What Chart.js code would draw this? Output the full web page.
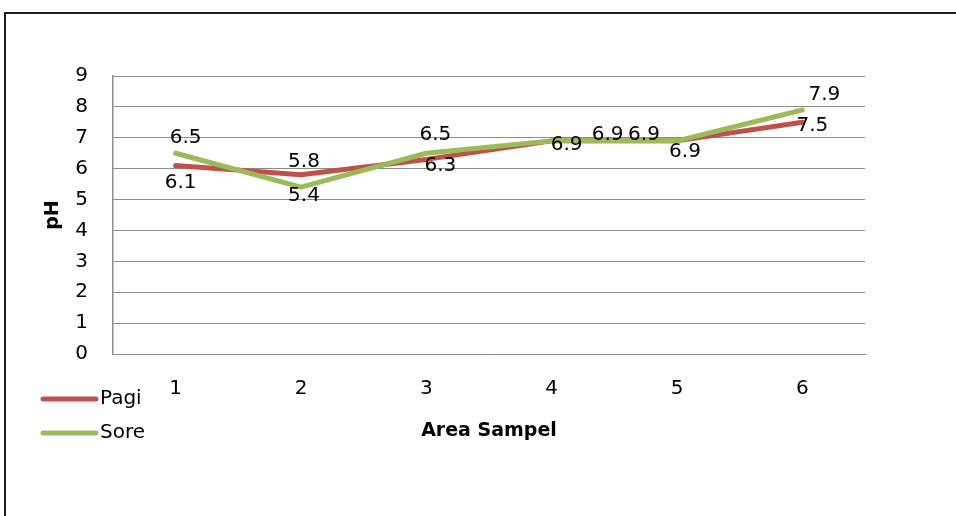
<!DOCTYPE html>
<html>
<head>
<meta charset="utf-8">
<title>pH Area Sampel</title>
<script src="https://cdn.jsdelivr.net/npm/chart.js@4/dist/chart.umd.min.js"></script>
<style>
  html, body { margin: 0; padding: 0; background: #fff; }
  #wrap { position: relative; width: 956px; height: 516px; overflow: hidden; }
  #frame { position: absolute; left: 4px; top: 12px; width: 1000px; height: 600px;
           border: 2px solid #1e1e1e; box-sizing: border-box; pointer-events: none; }
  canvas { position: absolute; left: 0; top: 0; }
</style>
</head>
<body>
<div id="wrap">
  <canvas id="c" width="956" height="516"></canvas>
  <div id="frame"></div>
</div>
<script>
// Sampling areas and measured pH (morning / afternoon)
const categories = ['1', '2', '3', '4', '5', '6'];
const pagi = [6.1, 5.8, 6.3, 6.9, 6.9, 7.5];
const sore = [6.5, 5.4, 6.5, 6.9, 6.9, 7.9];
const seriesNames = ['Pagi', 'Sore'];
const yMin = 0, yMax = 9, yStep = 1;

const FONT = '"DejaVu Sans", sans-serif';
const RED = '#C0504D';
const GREEN = '#9BBB59';

// Where each value label sits relative to its point (dx, dy in px)
const labelShift = {
  Pagi: [[5, 17], [3, -13], [14, 6], [15, 4], [8, 11], [10, 3]],
  Sore: [[10, -15], [3, 9], [9, -18], [56, -6], [-33, -6], [22, -15]]
};

const valueLabels = {
  id: 'valueLabels',
  afterDatasetsDraw(chart) {
    const ctx = chart.ctx;
    ctx.save();
    ctx.font = '20px ' + FONT;
    ctx.fillStyle = '#000';
    ctx.textAlign = 'center';
    ctx.textBaseline = 'middle';
    chart.data.datasets.forEach((ds, i) => {
      const meta = chart.getDatasetMeta(i);
      const shifts = labelShift[ds.label];
      meta.data.forEach((pt, j) => {
        const [dx, dy] = shifts[j];
        ctx.fillText(ds.data[j].toFixed(1), pt.x + dx, pt.y + dy);
      });
    });
    ctx.restore();
  }
};

const sideLegend = {
  id: 'sideLegend',
  afterDraw(chart) {
    const ctx = chart.ctx;
    ctx.save();
    ctx.font = '20px ' + FONT;
    ctx.textBaseline = 'middle';
    ctx.textAlign = 'left';
    const rows = [399, 433];
    chart.data.datasets.forEach((ds, i) => {
      const y = rows[i];
      ctx.strokeStyle = ds.borderColor;
      ctx.lineWidth = 5;
      ctx.lineCap = 'round';
      ctx.beginPath();
      ctx.moveTo(43, y);
      ctx.lineTo(96, y);
      ctx.stroke();
      ctx.fillStyle = '#000';
      ctx.fillText(ds.label, 100, y);
    });
    ctx.restore();
  }
};

new Chart(document.getElementById('c'), {
  type: 'line',
  data: {
    labels: categories,
    datasets: [
      { label: seriesNames[0], data: pagi, borderColor: RED, backgroundColor: RED,
        borderWidth: 5, pointRadius: 0, tension: 0, order: 1,
        borderJoinStyle: 'round', borderCapStyle: 'round' },
      { label: seriesNames[1], data: sore, borderColor: GREEN, backgroundColor: GREEN,
        borderWidth: 5, pointRadius: 0, tension: 0, order: 0,
        borderJoinStyle: 'round', borderCapStyle: 'round' }
    ]
  },
  options: {
    responsive: false,
    animation: false,
    events: [],
    layout: { padding: { left: 0, top: 76, right: 91, bottom: 0 } },
    plugins: { legend: { display: false }, tooltip: { enabled: false } },
    scales: {
      x: {
        type: 'category',
        offset: true,
        grid: { display: false, drawTicks: false },
        border: { display: true, color: '#8c8c8c', width: 1 },
        ticks: { color: '#000', font: { family: FONT, size: 20 }, padding: 23, maxRotation: 0 },
        title: { display: true, text: 'Area Sampel', color: '#000',
                 font: { family: FONT, size: 19, weight: 'bold' },
                 padding: { top: 0, bottom: 74 } },
        afterFit(scale) { scale.height = 162; }
      },
      y: {
        min: yMin, max: yMax,
        grid: { color: '#8c8c8c', lineWidth: 1, drawTicks: false },
        border: { display: true, color: '#8c8c8c', width: 1.5 },
        ticks: { stepSize: yStep, color: '#000', font: { family: FONT, size: 20 }, padding: 25 },
        title: { display: true, text: 'pH', color: '#000',
                 font: { family: FONT, size: 19, weight: 'bold' },
                 padding: { top: 42, bottom: 0 } },
        afterFit(scale) { scale.width = 113; }
      }
    }
  },
  plugins: [valueLabels, sideLegend]
});
</script>
</body>
</html>
